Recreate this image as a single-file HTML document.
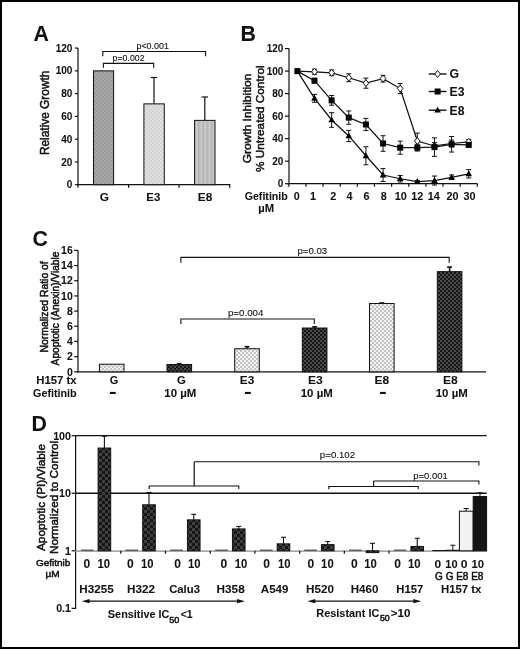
<!DOCTYPE html>
<html><head><meta charset="utf-8"><style>
html,body{margin:0;padding:0;background:#fff;}
body{width:520px;height:649px;overflow:hidden;}
svg{display:block;filter:grayscale(1);font-family:"Liberation Sans", sans-serif;}
text{stroke:#111;stroke-width:0.05px;}
text[font-weight="normal"]{stroke-width:0.5px;}
text.pv{stroke-width:0.1px;}
</style></head><body>
<svg width="520" height="649" viewBox="0 0 520 649" fill="#111">
<defs>
<pattern id="pG" width="4" height="4" patternUnits="userSpaceOnUse"><rect width="4" height="4" fill="#9c9c9c"/><rect width="2" height="2" fill="#a6a6a6"/><rect x="2" y="2" width="2" height="2" fill="#a6a6a6"/></pattern>
<pattern id="pE3" width="4" height="4" patternUnits="userSpaceOnUse"><rect width="4" height="4" fill="#d3d3d3"/><rect width="2" height="2" fill="#e0e0e0"/><rect x="2" y="2" width="2" height="2" fill="#e0e0e0"/></pattern>
<pattern id="pE8" width="4.3" height="4" patternUnits="userSpaceOnUse"><rect width="4.3" height="4" fill="#c8c8c8"/><rect width="2" height="4" fill="#b6b6b6"/></pattern>
<pattern id="pL" width="4" height="4" patternUnits="userSpaceOnUse"><rect width="4" height="4" fill="#c2c2c2"/><rect width="2" height="2" fill="#f2f2f2"/><rect x="2" y="2" width="2" height="2" fill="#f2f2f2"/></pattern>
<pattern id="pD" width="4" height="4" patternUnits="userSpaceOnUse"><rect width="4" height="4" fill="#171717"/><rect width="2" height="2" fill="#4a4a4a"/><rect x="2" y="2" width="2" height="2" fill="#4a4a4a"/></pattern>
<pattern id="pD2" width="6" height="6" patternUnits="userSpaceOnUse"><rect width="6" height="6" fill="#161616"/><rect width="3" height="3" fill="#404040"/><rect x="3" y="3" width="3" height="3" fill="#404040"/></pattern>
</defs>
<rect x="1" y="1" width="518" height="647" fill="#fff" stroke="#000" stroke-width="2"/>
<text x="33.60" y="40.90" font-size="21.3" font-weight="bold" text-anchor="start" >A</text>
<line x1="75.00" y1="184.70" x2="78.00" y2="184.70" stroke="#111" stroke-width="1.2"/>
<text x="72.40" y="188.30" font-size="10" font-weight="bold" text-anchor="end" >0</text>
<line x1="75.00" y1="161.93" x2="78.00" y2="161.93" stroke="#111" stroke-width="1.2"/>
<text x="72.40" y="165.53" font-size="10" font-weight="bold" text-anchor="end" >20</text>
<line x1="75.00" y1="139.16" x2="78.00" y2="139.16" stroke="#111" stroke-width="1.2"/>
<text x="72.40" y="142.76" font-size="10" font-weight="bold" text-anchor="end" >40</text>
<line x1="75.00" y1="116.39" x2="78.00" y2="116.39" stroke="#111" stroke-width="1.2"/>
<text x="72.40" y="119.99" font-size="10" font-weight="bold" text-anchor="end" >60</text>
<line x1="75.00" y1="93.62" x2="78.00" y2="93.62" stroke="#111" stroke-width="1.2"/>
<text x="72.40" y="97.22" font-size="10" font-weight="bold" text-anchor="end" >80</text>
<line x1="75.00" y1="70.85" x2="78.00" y2="70.85" stroke="#111" stroke-width="1.2"/>
<text x="72.40" y="74.45" font-size="10" font-weight="bold" text-anchor="end" >100</text>
<line x1="75.00" y1="48.08" x2="78.00" y2="48.08" stroke="#111" stroke-width="1.2"/>
<text x="72.40" y="51.68" font-size="10" font-weight="bold" text-anchor="end" >120</text>
<line x1="78.00" y1="48.00" x2="78.00" y2="185.30" stroke="#111" stroke-width="1.2"/>
<line x1="77.40" y1="184.70" x2="230.30" y2="184.70" stroke="#111" stroke-width="1.2"/>
<line x1="78.00" y1="184.70" x2="78.00" y2="187.70" stroke="#111" stroke-width="1.2"/>
<line x1="128.60" y1="184.70" x2="128.60" y2="187.70" stroke="#111" stroke-width="1.2"/>
<line x1="179.00" y1="184.70" x2="179.00" y2="187.70" stroke="#111" stroke-width="1.2"/>
<line x1="229.70" y1="184.70" x2="229.70" y2="187.70" stroke="#111" stroke-width="1.2"/>
<line x1="154.00" y1="77.50" x2="154.00" y2="103.75" stroke="#111" stroke-width="1.2"/>
<line x1="150.75" y1="77.50" x2="157.25" y2="77.50" stroke="#111" stroke-width="1.2"/>
<line x1="204.80" y1="97.00" x2="204.80" y2="120.50" stroke="#111" stroke-width="1.2"/>
<line x1="201.55" y1="97.00" x2="208.05" y2="97.00" stroke="#111" stroke-width="1.2"/>
<rect x="93.50" y="70.85" width="20.10" height="113.85" fill="url(#pG)" stroke="#111" stroke-width="1"/>
<rect x="143.90" y="103.87" width="20.40" height="80.83" fill="url(#pE3)" stroke="#111" stroke-width="1"/>
<rect x="194.60" y="120.37" width="20.40" height="64.33" fill="url(#pE8)" stroke="#111" stroke-width="1"/>
<path d="M102.80 56.20 V51.50 H205.60 V56.20" fill="none" stroke="#111" stroke-width="1.1"/>
<path d="M103.40 67.80 V63.40 H153.70 V67.80" fill="none" stroke="#111" stroke-width="1.1"/>
<text class="pv" x="152.65" y="49.20" font-size="8.3" font-weight="normal" text-anchor="middle" textLength="32.36" lengthAdjust="spacingAndGlyphs">p&lt;0.001</text>
<text class="pv" x="128.55" y="61.20" font-size="8.3" font-weight="normal" text-anchor="middle" textLength="31.96" lengthAdjust="spacingAndGlyphs">p=0.002</text>
<text x="104.30" y="200.90" font-size="10.8" font-weight="bold" text-anchor="middle" textLength="9.26" lengthAdjust="spacingAndGlyphs">G</text>
<text x="153.35" y="200.90" font-size="10.8" font-weight="bold" text-anchor="middle" textLength="13.96" lengthAdjust="spacingAndGlyphs">E3</text>
<text x="205.00" y="200.90" font-size="10.8" font-weight="bold" text-anchor="middle" textLength="14.46" lengthAdjust="spacingAndGlyphs">E8</text>
<text transform="translate(48.60,112.85) rotate(-90)" font-size="12" font-weight="normal" text-anchor="middle" textLength="84.5" lengthAdjust="spacingAndGlyphs">Relative Growth</text>
<text x="240.60" y="40.90" font-size="21.3" font-weight="bold" text-anchor="start" >B</text>
<line x1="285.00" y1="183.70" x2="289.00" y2="183.70" stroke="#111" stroke-width="1.2"/>
<text x="283.40" y="187.30" font-size="10" font-weight="bold" text-anchor="end" >0</text>
<line x1="285.00" y1="161.18" x2="289.00" y2="161.18" stroke="#111" stroke-width="1.2"/>
<text x="283.40" y="164.78" font-size="10" font-weight="bold" text-anchor="end" >20</text>
<line x1="285.00" y1="138.66" x2="289.00" y2="138.66" stroke="#111" stroke-width="1.2"/>
<text x="283.40" y="142.26" font-size="10" font-weight="bold" text-anchor="end" >40</text>
<line x1="285.00" y1="116.14" x2="289.00" y2="116.14" stroke="#111" stroke-width="1.2"/>
<text x="283.40" y="119.74" font-size="10" font-weight="bold" text-anchor="end" >60</text>
<line x1="285.00" y1="93.62" x2="289.00" y2="93.62" stroke="#111" stroke-width="1.2"/>
<text x="283.40" y="97.22" font-size="10" font-weight="bold" text-anchor="end" >80</text>
<line x1="285.00" y1="71.10" x2="289.00" y2="71.10" stroke="#111" stroke-width="1.2"/>
<text x="283.40" y="74.70" font-size="10" font-weight="bold" text-anchor="end" >100</text>
<line x1="285.00" y1="48.58" x2="289.00" y2="48.58" stroke="#111" stroke-width="1.2"/>
<text x="283.40" y="52.18" font-size="10" font-weight="bold" text-anchor="end" >120</text>
<line x1="289.00" y1="48.40" x2="289.00" y2="184.30" stroke="#111" stroke-width="1.2"/>
<line x1="288.40" y1="183.70" x2="477.50" y2="183.70" stroke="#111" stroke-width="1.2"/>
<line x1="288.80" y1="183.70" x2="288.80" y2="186.70" stroke="#111" stroke-width="1.2"/>
<line x1="305.94" y1="183.70" x2="305.94" y2="186.70" stroke="#111" stroke-width="1.2"/>
<line x1="323.07" y1="183.70" x2="323.07" y2="186.70" stroke="#111" stroke-width="1.2"/>
<line x1="340.21" y1="183.70" x2="340.21" y2="186.70" stroke="#111" stroke-width="1.2"/>
<line x1="357.35" y1="183.70" x2="357.35" y2="186.70" stroke="#111" stroke-width="1.2"/>
<line x1="374.48" y1="183.70" x2="374.48" y2="186.70" stroke="#111" stroke-width="1.2"/>
<line x1="391.62" y1="183.70" x2="391.62" y2="186.70" stroke="#111" stroke-width="1.2"/>
<line x1="408.75" y1="183.70" x2="408.75" y2="186.70" stroke="#111" stroke-width="1.2"/>
<line x1="425.89" y1="183.70" x2="425.89" y2="186.70" stroke="#111" stroke-width="1.2"/>
<line x1="443.03" y1="183.70" x2="443.03" y2="186.70" stroke="#111" stroke-width="1.2"/>
<line x1="460.16" y1="183.70" x2="460.16" y2="186.70" stroke="#111" stroke-width="1.2"/>
<line x1="477.30" y1="183.70" x2="477.30" y2="186.70" stroke="#111" stroke-width="1.2"/>
<text x="296.70" y="200.20" font-size="10.8" font-weight="bold" text-anchor="middle" >0</text>
<text x="312.90" y="200.20" font-size="10.8" font-weight="bold" text-anchor="middle" >1</text>
<text x="333.20" y="200.20" font-size="10.8" font-weight="bold" text-anchor="middle" >2</text>
<text x="349.60" y="200.20" font-size="10.8" font-weight="bold" text-anchor="middle" >4</text>
<text x="366.60" y="200.20" font-size="10.8" font-weight="bold" text-anchor="middle" >6</text>
<text x="383.80" y="200.20" font-size="10.8" font-weight="bold" text-anchor="middle" >8</text>
<text x="400.70" y="200.20" font-size="10.8" font-weight="bold" text-anchor="middle" >10</text>
<text x="417.30" y="200.20" font-size="10.8" font-weight="bold" text-anchor="middle" >12</text>
<text x="433.80" y="200.20" font-size="10.8" font-weight="bold" text-anchor="middle" >14</text>
<text x="452.60" y="200.20" font-size="10.8" font-weight="bold" text-anchor="middle" >20</text>
<text x="469.40" y="200.20" font-size="10.8" font-weight="bold" text-anchor="middle" >30</text>
<text x="266.25" y="200.10" font-size="11" font-weight="bold" text-anchor="middle" textLength="43.18" lengthAdjust="spacingAndGlyphs">Gefitinib</text>
<text x="266.30" y="212.40" font-size="10.5" font-weight="bold" text-anchor="middle" textLength="15.84" lengthAdjust="spacingAndGlyphs">µM</text>
<text transform="translate(251.10,118.40) rotate(-90)" font-size="11.8" font-weight="normal" text-anchor="middle" textLength="89.6" lengthAdjust="spacingAndGlyphs">Growth Inhibition</text>
<text transform="translate(264.00,118.60) rotate(-90)" font-size="11.8" font-weight="normal" text-anchor="middle" textLength="106.6" lengthAdjust="spacingAndGlyphs">% Untreated Control</text>
<polyline points="297.37,71.10 314.50,98.35 331.64,119.97 348.78,135.96 365.91,155.78 383.05,175.03 400.19,178.75 417.32,181.67 434.46,180.55 451.60,177.28 468.73,173.79" fill="none" stroke="#111" stroke-width="1.25"/>
<line x1="314.50" y1="94.41" x2="314.50" y2="102.29" stroke="#111" stroke-width="1"/>
<line x1="312.00" y1="94.41" x2="317.00" y2="94.41" stroke="#111" stroke-width="1"/>
<line x1="312.00" y1="102.29" x2="317.00" y2="102.29" stroke="#111" stroke-width="1"/>
<line x1="331.64" y1="112.65" x2="331.64" y2="127.29" stroke="#111" stroke-width="1"/>
<line x1="329.14" y1="112.65" x2="334.14" y2="112.65" stroke="#111" stroke-width="1"/>
<line x1="329.14" y1="127.29" x2="334.14" y2="127.29" stroke="#111" stroke-width="1"/>
<line x1="348.78" y1="130.33" x2="348.78" y2="141.59" stroke="#111" stroke-width="1"/>
<line x1="346.28" y1="130.33" x2="351.28" y2="130.33" stroke="#111" stroke-width="1"/>
<line x1="346.28" y1="141.59" x2="351.28" y2="141.59" stroke="#111" stroke-width="1"/>
<line x1="365.91" y1="146.77" x2="365.91" y2="164.78" stroke="#111" stroke-width="1"/>
<line x1="363.41" y1="146.77" x2="368.41" y2="146.77" stroke="#111" stroke-width="1"/>
<line x1="363.41" y1="164.78" x2="368.41" y2="164.78" stroke="#111" stroke-width="1"/>
<line x1="383.05" y1="168.61" x2="383.05" y2="181.45" stroke="#111" stroke-width="1"/>
<line x1="380.55" y1="168.61" x2="385.55" y2="168.61" stroke="#111" stroke-width="1"/>
<line x1="380.55" y1="181.45" x2="385.55" y2="181.45" stroke="#111" stroke-width="1"/>
<line x1="400.19" y1="175.48" x2="400.19" y2="182.01" stroke="#111" stroke-width="1"/>
<line x1="397.69" y1="175.48" x2="402.69" y2="175.48" stroke="#111" stroke-width="1"/>
<line x1="397.69" y1="182.01" x2="402.69" y2="182.01" stroke="#111" stroke-width="1"/>
<line x1="417.32" y1="180.55" x2="417.32" y2="182.80" stroke="#111" stroke-width="1"/>
<line x1="414.82" y1="180.55" x2="419.82" y2="180.55" stroke="#111" stroke-width="1"/>
<line x1="414.82" y1="182.80" x2="419.82" y2="182.80" stroke="#111" stroke-width="1"/>
<line x1="434.46" y1="176.04" x2="434.46" y2="185.05" stroke="#111" stroke-width="1"/>
<line x1="431.96" y1="176.04" x2="436.96" y2="176.04" stroke="#111" stroke-width="1"/>
<line x1="431.96" y1="185.05" x2="436.96" y2="185.05" stroke="#111" stroke-width="1"/>
<line x1="451.60" y1="175.03" x2="451.60" y2="179.53" stroke="#111" stroke-width="1"/>
<line x1="449.10" y1="175.03" x2="454.10" y2="175.03" stroke="#111" stroke-width="1"/>
<line x1="449.10" y1="179.53" x2="454.10" y2="179.53" stroke="#111" stroke-width="1"/>
<line x1="468.73" y1="169.62" x2="468.73" y2="177.96" stroke="#111" stroke-width="1"/>
<line x1="466.23" y1="169.62" x2="471.23" y2="169.62" stroke="#111" stroke-width="1"/>
<line x1="466.23" y1="177.96" x2="471.23" y2="177.96" stroke="#111" stroke-width="1"/>
<path d="M314.50 94.79 L317.80 100.73 L311.20 100.73 Z" fill="#000"/>
<path d="M331.64 116.40 L334.94 122.34 L328.34 122.34 Z" fill="#000"/>
<path d="M348.78 132.39 L352.08 138.33 L345.48 138.33 Z" fill="#000"/>
<path d="M365.91 152.21 L369.21 158.15 L362.61 158.15 Z" fill="#000"/>
<path d="M383.05 171.47 L386.35 177.41 L379.75 177.41 Z" fill="#000"/>
<path d="M400.19 175.18 L403.49 181.12 L396.89 181.12 Z" fill="#000"/>
<path d="M417.32 178.11 L420.62 184.05 L414.02 184.05 Z" fill="#000"/>
<path d="M434.46 176.98 L437.76 182.92 L431.16 182.92 Z" fill="#000"/>
<path d="M451.60 173.72 L454.90 179.66 L448.30 179.66 Z" fill="#000"/>
<path d="M468.73 170.23 L472.03 176.17 L465.43 176.17 Z" fill="#000"/>
<polyline points="297.37,71.10 314.50,71.78 331.64,72.79 348.78,77.74 365.91,83.15 383.05,78.64 400.19,88.55 417.32,141.02 434.46,145.98 451.60,143.50 468.73,141.81" fill="none" stroke="#111" stroke-width="1.25"/>
<line x1="314.50" y1="69.19" x2="314.50" y2="74.37" stroke="#111" stroke-width="1"/>
<line x1="312.00" y1="69.19" x2="317.00" y2="69.19" stroke="#111" stroke-width="1"/>
<line x1="312.00" y1="74.37" x2="317.00" y2="74.37" stroke="#111" stroke-width="1"/>
<line x1="331.64" y1="69.97" x2="331.64" y2="75.60" stroke="#111" stroke-width="1"/>
<line x1="329.14" y1="69.97" x2="334.14" y2="69.97" stroke="#111" stroke-width="1"/>
<line x1="329.14" y1="75.60" x2="334.14" y2="75.60" stroke="#111" stroke-width="1"/>
<line x1="348.78" y1="73.80" x2="348.78" y2="81.68" stroke="#111" stroke-width="1"/>
<line x1="346.28" y1="73.80" x2="351.28" y2="73.80" stroke="#111" stroke-width="1"/>
<line x1="346.28" y1="81.68" x2="351.28" y2="81.68" stroke="#111" stroke-width="1"/>
<line x1="365.91" y1="78.08" x2="365.91" y2="88.22" stroke="#111" stroke-width="1"/>
<line x1="363.41" y1="78.08" x2="368.41" y2="78.08" stroke="#111" stroke-width="1"/>
<line x1="363.41" y1="88.22" x2="368.41" y2="88.22" stroke="#111" stroke-width="1"/>
<line x1="383.05" y1="75.27" x2="383.05" y2="82.02" stroke="#111" stroke-width="1"/>
<line x1="380.55" y1="75.27" x2="385.55" y2="75.27" stroke="#111" stroke-width="1"/>
<line x1="380.55" y1="82.02" x2="385.55" y2="82.02" stroke="#111" stroke-width="1"/>
<line x1="400.19" y1="83.49" x2="400.19" y2="93.62" stroke="#111" stroke-width="1"/>
<line x1="397.69" y1="83.49" x2="402.69" y2="83.49" stroke="#111" stroke-width="1"/>
<line x1="397.69" y1="93.62" x2="402.69" y2="93.62" stroke="#111" stroke-width="1"/>
<line x1="417.32" y1="133.14" x2="417.32" y2="148.91" stroke="#111" stroke-width="1"/>
<line x1="414.82" y1="133.14" x2="419.82" y2="133.14" stroke="#111" stroke-width="1"/>
<line x1="414.82" y1="148.91" x2="419.82" y2="148.91" stroke="#111" stroke-width="1"/>
<line x1="434.46" y1="142.60" x2="434.46" y2="149.36" stroke="#111" stroke-width="1"/>
<line x1="431.96" y1="142.60" x2="436.96" y2="142.60" stroke="#111" stroke-width="1"/>
<line x1="431.96" y1="149.36" x2="436.96" y2="149.36" stroke="#111" stroke-width="1"/>
<line x1="451.60" y1="140.12" x2="451.60" y2="146.88" stroke="#111" stroke-width="1"/>
<line x1="449.10" y1="140.12" x2="454.10" y2="140.12" stroke="#111" stroke-width="1"/>
<line x1="449.10" y1="146.88" x2="454.10" y2="146.88" stroke="#111" stroke-width="1"/>
<line x1="468.73" y1="139.56" x2="468.73" y2="144.06" stroke="#111" stroke-width="1"/>
<line x1="466.23" y1="139.56" x2="471.23" y2="139.56" stroke="#111" stroke-width="1"/>
<line x1="466.23" y1="144.06" x2="471.23" y2="144.06" stroke="#111" stroke-width="1"/>
<path d="M314.50 68.28 L317.30 71.78 L314.50 75.28 L311.70 71.78 Z" fill="#fff" stroke="#111" stroke-width="1"/>
<path d="M331.64 69.29 L334.44 72.79 L331.64 76.29 L328.84 72.79 Z" fill="#fff" stroke="#111" stroke-width="1"/>
<path d="M348.78 74.24 L351.58 77.74 L348.78 81.24 L345.98 77.74 Z" fill="#fff" stroke="#111" stroke-width="1"/>
<path d="M365.91 79.65 L368.71 83.15 L365.91 86.65 L363.11 83.15 Z" fill="#fff" stroke="#111" stroke-width="1"/>
<path d="M383.05 75.14 L385.85 78.64 L383.05 82.14 L380.25 78.64 Z" fill="#fff" stroke="#111" stroke-width="1"/>
<path d="M400.19 85.05 L402.99 88.55 L400.19 92.05 L397.39 88.55 Z" fill="#fff" stroke="#111" stroke-width="1"/>
<path d="M417.32 137.52 L420.12 141.02 L417.32 144.52 L414.52 141.02 Z" fill="#fff" stroke="#111" stroke-width="1"/>
<path d="M434.46 142.48 L437.26 145.98 L434.46 149.48 L431.66 145.98 Z" fill="#fff" stroke="#111" stroke-width="1"/>
<path d="M451.60 140.00 L454.40 143.50 L451.60 147.00 L448.80 143.50 Z" fill="#fff" stroke="#111" stroke-width="1"/>
<path d="M468.73 138.31 L471.53 141.81 L468.73 145.31 L465.93 141.81 Z" fill="#fff" stroke="#111" stroke-width="1"/>
<polyline points="297.37,71.10 314.50,80.67 331.64,100.38 348.78,117.60 365.91,124.47 383.05,143.50 400.19,147.67 417.32,147.67 434.46,147.10 451.60,144.29 468.73,144.85" fill="none" stroke="#111" stroke-width="1.25"/>
<line x1="314.50" y1="78.42" x2="314.50" y2="82.92" stroke="#111" stroke-width="1"/>
<line x1="312.00" y1="78.42" x2="317.00" y2="78.42" stroke="#111" stroke-width="1"/>
<line x1="312.00" y1="82.92" x2="317.00" y2="82.92" stroke="#111" stroke-width="1"/>
<line x1="331.64" y1="95.53" x2="331.64" y2="105.22" stroke="#111" stroke-width="1"/>
<line x1="329.14" y1="95.53" x2="334.14" y2="95.53" stroke="#111" stroke-width="1"/>
<line x1="329.14" y1="105.22" x2="334.14" y2="105.22" stroke="#111" stroke-width="1"/>
<line x1="348.78" y1="110.96" x2="348.78" y2="124.25" stroke="#111" stroke-width="1"/>
<line x1="346.28" y1="110.96" x2="351.28" y2="110.96" stroke="#111" stroke-width="1"/>
<line x1="346.28" y1="124.25" x2="351.28" y2="124.25" stroke="#111" stroke-width="1"/>
<line x1="365.91" y1="118.39" x2="365.91" y2="130.55" stroke="#111" stroke-width="1"/>
<line x1="363.41" y1="118.39" x2="368.41" y2="118.39" stroke="#111" stroke-width="1"/>
<line x1="363.41" y1="130.55" x2="368.41" y2="130.55" stroke="#111" stroke-width="1"/>
<line x1="383.05" y1="135.73" x2="383.05" y2="151.27" stroke="#111" stroke-width="1"/>
<line x1="380.55" y1="135.73" x2="385.55" y2="135.73" stroke="#111" stroke-width="1"/>
<line x1="380.55" y1="151.27" x2="385.55" y2="151.27" stroke="#111" stroke-width="1"/>
<line x1="400.19" y1="141.14" x2="400.19" y2="154.20" stroke="#111" stroke-width="1"/>
<line x1="397.69" y1="141.14" x2="402.69" y2="141.14" stroke="#111" stroke-width="1"/>
<line x1="397.69" y1="154.20" x2="402.69" y2="154.20" stroke="#111" stroke-width="1"/>
<line x1="417.32" y1="144.29" x2="417.32" y2="151.05" stroke="#111" stroke-width="1"/>
<line x1="414.82" y1="144.29" x2="419.82" y2="144.29" stroke="#111" stroke-width="1"/>
<line x1="414.82" y1="151.05" x2="419.82" y2="151.05" stroke="#111" stroke-width="1"/>
<line x1="434.46" y1="137.87" x2="434.46" y2="156.34" stroke="#111" stroke-width="1"/>
<line x1="431.96" y1="137.87" x2="436.96" y2="137.87" stroke="#111" stroke-width="1"/>
<line x1="431.96" y1="156.34" x2="436.96" y2="156.34" stroke="#111" stroke-width="1"/>
<line x1="451.60" y1="136.52" x2="451.60" y2="152.06" stroke="#111" stroke-width="1"/>
<line x1="449.10" y1="136.52" x2="454.10" y2="136.52" stroke="#111" stroke-width="1"/>
<line x1="449.10" y1="152.06" x2="454.10" y2="152.06" stroke="#111" stroke-width="1"/>
<line x1="468.73" y1="142.60" x2="468.73" y2="147.10" stroke="#111" stroke-width="1"/>
<line x1="466.23" y1="142.60" x2="471.23" y2="142.60" stroke="#111" stroke-width="1"/>
<line x1="466.23" y1="147.10" x2="471.23" y2="147.10" stroke="#111" stroke-width="1"/>
<rect x="294.37" y="68.10" width="6" height="6" fill="#000"/>
<rect x="311.50" y="77.67" width="6" height="6" fill="#000"/>
<rect x="328.64" y="97.38" width="6" height="6" fill="#000"/>
<rect x="345.78" y="114.60" width="6" height="6" fill="#000"/>
<rect x="362.91" y="121.47" width="6" height="6" fill="#000"/>
<rect x="380.05" y="140.50" width="6" height="6" fill="#000"/>
<rect x="397.19" y="144.67" width="6" height="6" fill="#000"/>
<rect x="414.32" y="144.67" width="6" height="6" fill="#000"/>
<rect x="431.46" y="144.10" width="6" height="6" fill="#000"/>
<rect x="448.60" y="141.29" width="6" height="6" fill="#000"/>
<rect x="465.73" y="141.85" width="6" height="6" fill="#000"/>
<line x1="428.80" y1="74.00" x2="446.50" y2="74.00" stroke="#111" stroke-width="1.4"/>
<path d="M437.60 70.50 L440.40 74.00 L437.60 77.50 L434.80 74.00 Z" fill="#fff" stroke="#111" stroke-width="1"/>
<text x="454.40" y="78.30" font-size="12" font-weight="bold" text-anchor="middle" textLength="9.56" lengthAdjust="spacingAndGlyphs">G</text>
<line x1="428.80" y1="91.50" x2="446.50" y2="91.50" stroke="#111" stroke-width="1.4"/>
<rect x="434.60" y="88.50" width="6" height="6" fill="#000"/>
<text x="457.05" y="95.80" font-size="12" font-weight="bold" text-anchor="middle" textLength="14.86" lengthAdjust="spacingAndGlyphs">E3</text>
<line x1="428.80" y1="110.20" x2="446.50" y2="110.20" stroke="#111" stroke-width="1.4"/>
<path d="M437.60 106.64 L440.90 112.58 L434.30 112.58 Z" fill="#000"/>
<text x="457.05" y="114.50" font-size="12" font-weight="bold" text-anchor="middle" textLength="14.86" lengthAdjust="spacingAndGlyphs">E8</text>
<text x="32.40" y="246.40" font-size="21.3" font-weight="bold" text-anchor="start" >C</text>
<line x1="74.20" y1="371.80" x2="78.00" y2="371.80" stroke="#111" stroke-width="1.2"/>
<text x="72.80" y="375.50" font-size="10.5" font-weight="bold" text-anchor="end" >0</text>
<line x1="74.20" y1="356.62" x2="78.00" y2="356.62" stroke="#111" stroke-width="1.2"/>
<text x="72.80" y="360.32" font-size="10.5" font-weight="bold" text-anchor="end" >2</text>
<line x1="74.20" y1="341.45" x2="78.00" y2="341.45" stroke="#111" stroke-width="1.2"/>
<text x="72.80" y="345.15" font-size="10.5" font-weight="bold" text-anchor="end" >4</text>
<line x1="74.20" y1="326.27" x2="78.00" y2="326.27" stroke="#111" stroke-width="1.2"/>
<text x="72.80" y="329.97" font-size="10.5" font-weight="bold" text-anchor="end" >6</text>
<line x1="74.20" y1="311.10" x2="78.00" y2="311.10" stroke="#111" stroke-width="1.2"/>
<text x="72.80" y="314.80" font-size="10.5" font-weight="bold" text-anchor="end" >8</text>
<line x1="74.20" y1="295.93" x2="78.00" y2="295.93" stroke="#111" stroke-width="1.2"/>
<text x="72.80" y="299.62" font-size="10.5" font-weight="bold" text-anchor="end" >10</text>
<line x1="74.20" y1="280.75" x2="78.00" y2="280.75" stroke="#111" stroke-width="1.2"/>
<text x="72.80" y="284.45" font-size="10.5" font-weight="bold" text-anchor="end" >12</text>
<line x1="74.20" y1="265.57" x2="78.00" y2="265.57" stroke="#111" stroke-width="1.2"/>
<text x="72.80" y="269.27" font-size="10.5" font-weight="bold" text-anchor="end" >14</text>
<line x1="74.20" y1="250.40" x2="78.00" y2="250.40" stroke="#111" stroke-width="1.2"/>
<text x="72.80" y="254.10" font-size="10.5" font-weight="bold" text-anchor="end" >16</text>
<line x1="78.00" y1="250.30" x2="78.00" y2="372.40" stroke="#111" stroke-width="1.2"/>
<line x1="77.40" y1="371.80" x2="486.00" y2="371.80" stroke="#111" stroke-width="1.2"/>
<rect x="99.40" y="364.21" width="24.60" height="7.59" fill="url(#pL)" stroke="#111" stroke-width="1"/>
<line x1="179.30" y1="363.91" x2="179.30" y2="364.52" stroke="#111" stroke-width="1.6"/>
<line x1="176.80" y1="363.91" x2="181.80" y2="363.91" stroke="#111" stroke-width="1.6"/>
<rect x="167.00" y="364.52" width="24.60" height="7.28" fill="url(#pD)" stroke="#111" stroke-width="1"/>
<line x1="247.00" y1="346.69" x2="247.00" y2="348.73" stroke="#111" stroke-width="1.6"/>
<line x1="244.50" y1="346.69" x2="249.50" y2="346.69" stroke="#111" stroke-width="1.6"/>
<rect x="234.70" y="348.73" width="24.60" height="23.07" fill="url(#pL)" stroke="#111" stroke-width="1"/>
<line x1="314.65" y1="326.88" x2="314.65" y2="328.02" stroke="#111" stroke-width="1.6"/>
<line x1="312.15" y1="326.88" x2="317.15" y2="326.88" stroke="#111" stroke-width="1.6"/>
<rect x="302.35" y="328.02" width="24.60" height="43.78" fill="url(#pD)" stroke="#111" stroke-width="1"/>
<line x1="381.80" y1="302.98" x2="381.80" y2="303.51" stroke="#111" stroke-width="1.6"/>
<line x1="379.30" y1="302.98" x2="384.30" y2="302.98" stroke="#111" stroke-width="1.6"/>
<rect x="369.50" y="303.51" width="24.60" height="68.29" fill="url(#pL)" stroke="#111" stroke-width="1"/>
<line x1="449.60" y1="267.09" x2="449.60" y2="271.64" stroke="#111" stroke-width="1.6"/>
<line x1="447.10" y1="267.09" x2="452.10" y2="267.09" stroke="#111" stroke-width="1.6"/>
<rect x="437.30" y="271.64" width="24.60" height="100.16" fill="url(#pD)" stroke="#111" stroke-width="1"/>
<path d="M180.90 262.80 V257.40 H449.20 V262.80" fill="none" stroke="#111" stroke-width="1.1"/>
<path d="M180.90 324.00 V319.00 H314.30 V324.00" fill="none" stroke="#111" stroke-width="1.1"/>
<text class="pv" x="312.30" y="254.10" font-size="9.2" font-weight="normal" text-anchor="middle" textLength="29.74" lengthAdjust="spacingAndGlyphs">p=0.03</text>
<text class="pv" x="245.65" y="316.00" font-size="9.2" font-weight="normal" text-anchor="middle" textLength="35.44" lengthAdjust="spacingAndGlyphs">p=0.004</text>
<text x="56.45" y="384.40" font-size="10.8" font-weight="bold" text-anchor="middle" textLength="40.36" lengthAdjust="spacingAndGlyphs">H157 tx</text>
<text x="54.85" y="396.90" font-size="10.8" font-weight="bold" text-anchor="middle" textLength="43.56" lengthAdjust="spacingAndGlyphs">Gefitinib</text>
<text x="114.00" y="384.20" font-size="11.4" font-weight="bold" text-anchor="middle" textLength="8.51" lengthAdjust="spacingAndGlyphs">G</text>
<text x="181.35" y="384.20" font-size="11.4" font-weight="bold" text-anchor="middle" textLength="8.81" lengthAdjust="spacingAndGlyphs">G</text>
<text x="247.00" y="384.20" font-size="11.4" font-weight="bold" text-anchor="middle" textLength="14.51" lengthAdjust="spacingAndGlyphs">E3</text>
<text x="315.45" y="384.20" font-size="11.4" font-weight="bold" text-anchor="middle" textLength="14.81" lengthAdjust="spacingAndGlyphs">E3</text>
<text x="381.90" y="384.20" font-size="11.4" font-weight="bold" text-anchor="middle" textLength="14.71" lengthAdjust="spacingAndGlyphs">E8</text>
<text x="450.45" y="384.20" font-size="11.4" font-weight="bold" text-anchor="middle" textLength="14.81" lengthAdjust="spacingAndGlyphs">E8</text>
<rect x="109.90" y="391.9" width="5.8" height="2.1" fill="#111"/>
<rect x="245.00" y="391.9" width="5.8" height="2.1" fill="#111"/>
<rect x="380.00" y="391.9" width="5.8" height="2.1" fill="#111"/>
<text x="180.35" y="397.30" font-size="10.4" font-weight="bold" text-anchor="middle" textLength="32.13" lengthAdjust="spacingAndGlyphs">10 µM</text>
<text x="316.75" y="397.30" font-size="10.4" font-weight="bold" text-anchor="middle" textLength="31.93" lengthAdjust="spacingAndGlyphs">10 µM</text>
<text x="451.75" y="397.30" font-size="10.4" font-weight="bold" text-anchor="middle" textLength="31.93" lengthAdjust="spacingAndGlyphs">10 µM</text>
<text transform="translate(47.90,306.90) rotate(-90)" font-size="10.3" font-weight="normal" text-anchor="middle" textLength="91.2" lengthAdjust="spacingAndGlyphs">Normalized Ratio of</text>
<text transform="translate(59.20,308.50) rotate(-90)" font-size="10.3" font-weight="normal" text-anchor="middle" textLength="113.8" lengthAdjust="spacingAndGlyphs">Apoptotic (Anexin)/Viable</text>
<text x="31.60" y="430.90" font-size="21.3" font-weight="bold" text-anchor="start" >D</text>
<line x1="71.60" y1="435.70" x2="75.60" y2="435.70" stroke="#111" stroke-width="1.2"/>
<text x="71.00" y="439.60" font-size="10.7" font-weight="bold" text-anchor="end" >100</text>
<line x1="71.60" y1="493.25" x2="75.60" y2="493.25" stroke="#111" stroke-width="1.2"/>
<text x="71.00" y="497.15" font-size="10.7" font-weight="bold" text-anchor="end" >10</text>
<line x1="71.60" y1="550.80" x2="75.60" y2="550.80" stroke="#111" stroke-width="1.2"/>
<text x="71.00" y="554.70" font-size="10.7" font-weight="bold" text-anchor="end" >1</text>
<line x1="71.60" y1="608.35" x2="75.60" y2="608.35" stroke="#111" stroke-width="1.2"/>
<text x="71.00" y="612.25" font-size="10.7" font-weight="bold" text-anchor="end" >0.1</text>
<line x1="75.60" y1="435.60" x2="75.60" y2="608.90" stroke="#111" stroke-width="1.2"/>
<line x1="75.60" y1="435.70" x2="486.70" y2="435.70" stroke="#111" stroke-width="1.3"/>
<line x1="75.60" y1="493.25" x2="486.70" y2="493.25" stroke="#111" stroke-width="1.3"/>
<line x1="75.00" y1="551.10" x2="486.70" y2="551.10" stroke="#8a8a8a" stroke-width="1.1"/>
<line x1="104.40" y1="436.20" x2="104.40" y2="448.05" stroke="#111" stroke-width="1.1"/>
<line x1="101.90" y1="436.20" x2="106.90" y2="436.20" stroke="#111" stroke-width="1.1"/>
<rect x="98.10" y="448.05" width="12.60" height="102.75" fill="url(#pD2)" stroke="#111" stroke-width="1"/>
<rect x="80.90" y="549.60" width="12.6" height="1.2" fill="#444"/>
<line x1="149.00" y1="492.51" x2="149.00" y2="504.80" stroke="#111" stroke-width="1.1"/>
<line x1="146.50" y1="492.51" x2="151.50" y2="492.51" stroke="#111" stroke-width="1.1"/>
<rect x="142.70" y="504.80" width="12.60" height="46.00" fill="url(#pD2)" stroke="#111" stroke-width="1"/>
<rect x="125.50" y="549.60" width="12.6" height="1.2" fill="#444"/>
<line x1="193.75" y1="514.34" x2="193.75" y2="519.85" stroke="#111" stroke-width="1.1"/>
<line x1="191.25" y1="514.34" x2="196.25" y2="514.34" stroke="#111" stroke-width="1.1"/>
<rect x="187.45" y="519.85" width="12.60" height="30.95" fill="url(#pD2)" stroke="#111" stroke-width="1"/>
<rect x="170.25" y="549.60" width="12.6" height="1.2" fill="#444"/>
<line x1="238.75" y1="526.44" x2="238.75" y2="528.92" stroke="#111" stroke-width="1.1"/>
<line x1="236.25" y1="526.44" x2="241.25" y2="526.44" stroke="#111" stroke-width="1.1"/>
<rect x="232.45" y="528.92" width="12.60" height="21.88" fill="url(#pD2)" stroke="#111" stroke-width="1"/>
<rect x="215.25" y="549.60" width="12.6" height="1.2" fill="#444"/>
<line x1="283.50" y1="537.25" x2="283.50" y2="543.86" stroke="#111" stroke-width="1.1"/>
<line x1="281.00" y1="537.25" x2="286.00" y2="537.25" stroke="#111" stroke-width="1.1"/>
<rect x="277.20" y="543.86" width="12.60" height="6.94" fill="url(#pD2)" stroke="#111" stroke-width="1"/>
<rect x="260.00" y="549.60" width="12.6" height="1.2" fill="#444"/>
<line x1="327.75" y1="541.51" x2="327.75" y2="544.63" stroke="#111" stroke-width="1.1"/>
<line x1="325.25" y1="541.51" x2="330.25" y2="541.51" stroke="#111" stroke-width="1.1"/>
<rect x="321.45" y="544.63" width="12.60" height="6.17" fill="url(#pD2)" stroke="#111" stroke-width="1"/>
<rect x="304.25" y="549.60" width="12.6" height="1.2" fill="#444"/>
<line x1="372.50" y1="543.30" x2="372.50" y2="550.80" stroke="#111" stroke-width="1.1"/>
<line x1="370.00" y1="543.30" x2="375.00" y2="543.30" stroke="#111" stroke-width="1.1"/>
<rect x="366.20" y="550.80" width="12.60" height="1.81" fill="url(#pD2)" stroke="#111" stroke-width="1"/>
<rect x="349.00" y="549.60" width="12.6" height="1.2" fill="#444"/>
<line x1="417.25" y1="538.28" x2="417.25" y2="546.45" stroke="#111" stroke-width="1.1"/>
<line x1="414.75" y1="538.28" x2="419.75" y2="538.28" stroke="#111" stroke-width="1.1"/>
<rect x="410.95" y="546.45" width="12.60" height="4.35" fill="url(#pD2)" stroke="#111" stroke-width="1"/>
<rect x="393.75" y="549.60" width="12.6" height="1.2" fill="#444"/>
<rect x="432.70" y="550.31" width="13.40" height="0.49" fill="#333" stroke="#111" stroke-width="0.6"/>
<rect x="446.40" y="550.06" width="12.80" height="0.74" fill="#333" stroke="#111" stroke-width="0.6"/>
<line x1="452.80" y1="545.22" x2="452.80" y2="550.06" stroke="#111" stroke-width="1"/>
<line x1="450.30" y1="545.22" x2="455.30" y2="545.22" stroke="#111" stroke-width="1"/>
<line x1="466.20" y1="508.50" x2="466.20" y2="511.20" stroke="#111" stroke-width="1"/>
<line x1="463.70" y1="508.50" x2="468.70" y2="508.50" stroke="#111" stroke-width="1"/>
<rect x="459.40" y="511.20" width="13.80" height="39.60" fill="#f2f2f2" stroke="#111" stroke-width="1"/>
<line x1="480.00" y1="492.80" x2="480.00" y2="496.50" stroke="#111" stroke-width="1"/>
<line x1="477.50" y1="492.80" x2="482.50" y2="492.80" stroke="#111" stroke-width="1"/>
<rect x="473.20" y="496.50" width="13.40" height="54.30" fill="#141414" stroke="#111" stroke-width="1"/>
<line x1="120.75" y1="550.80" x2="120.75" y2="553.80" stroke="#111" stroke-width="1.2"/>
<line x1="165.47" y1="550.80" x2="165.47" y2="553.80" stroke="#111" stroke-width="1.2"/>
<line x1="210.19" y1="550.80" x2="210.19" y2="553.80" stroke="#111" stroke-width="1.2"/>
<line x1="254.91" y1="550.80" x2="254.91" y2="553.80" stroke="#111" stroke-width="1.2"/>
<line x1="299.63" y1="550.80" x2="299.63" y2="553.80" stroke="#111" stroke-width="1.2"/>
<line x1="344.35" y1="550.80" x2="344.35" y2="553.80" stroke="#111" stroke-width="1.2"/>
<line x1="389.07" y1="550.80" x2="389.07" y2="553.80" stroke="#111" stroke-width="1.2"/>
<path d="M149.20 489.00 V486.00 H238.80 V489.00" fill="none" stroke="#111" stroke-width="1.1"/>
<line x1="194.20" y1="461.80" x2="194.20" y2="486.00" stroke="#111" stroke-width="1.2"/>
<path d="M194.20 461.80 V461.80 H478.90 V465.60" fill="none" stroke="#111" stroke-width="1.1"/>
<path d="M328.80 489.30 V486.50 H418.20 V489.30" fill="none" stroke="#111" stroke-width="1.1"/>
<line x1="373.60" y1="481.00" x2="373.60" y2="486.50" stroke="#111" stroke-width="1.2"/>
<path d="M373.60 481.00 V481.00 H478.90 V484.60" fill="none" stroke="#111" stroke-width="1.1"/>
<text class="pv" x="337.50" y="457.80" font-size="9.2" font-weight="normal" text-anchor="middle" textLength="35.34" lengthAdjust="spacingAndGlyphs">p=0.102</text>
<text class="pv" x="430.45" y="479.10" font-size="9.2" font-weight="normal" text-anchor="middle" textLength="34.44" lengthAdjust="spacingAndGlyphs">p=0.001</text>
<text x="53.10" y="565.60" font-size="9.8" font-weight="normal" text-anchor="middle" textLength="34.38" lengthAdjust="spacingAndGlyphs">Gefitnib</text>
<text x="52.60" y="576.60" font-size="9.8" font-weight="normal" text-anchor="middle" textLength="14.18" lengthAdjust="spacingAndGlyphs">µM</text>
<text x="86.90" y="567.80" font-size="12" font-weight="bold" text-anchor="middle" >0</text>
<text x="103.85" y="567.80" font-size="12" font-weight="bold" text-anchor="middle" textLength="12.56" lengthAdjust="spacingAndGlyphs">10</text>
<text x="130.40" y="567.80" font-size="12" font-weight="bold" text-anchor="middle" >0</text>
<text x="147.20" y="567.80" font-size="12" font-weight="bold" text-anchor="middle" textLength="12.56" lengthAdjust="spacingAndGlyphs">10</text>
<text x="177.50" y="567.80" font-size="12" font-weight="bold" text-anchor="middle" >0</text>
<text x="194.30" y="567.80" font-size="12" font-weight="bold" text-anchor="middle" textLength="12.56" lengthAdjust="spacingAndGlyphs">10</text>
<text x="223.80" y="567.80" font-size="12" font-weight="bold" text-anchor="middle" >0</text>
<text x="241.10" y="567.80" font-size="12" font-weight="bold" text-anchor="middle" textLength="12.56" lengthAdjust="spacingAndGlyphs">10</text>
<text x="266.60" y="567.80" font-size="12" font-weight="bold" text-anchor="middle" >0</text>
<text x="284.20" y="567.80" font-size="12" font-weight="bold" text-anchor="middle" textLength="12.56" lengthAdjust="spacingAndGlyphs">10</text>
<text x="310.80" y="567.80" font-size="12" font-weight="bold" text-anchor="middle" >0</text>
<text x="327.40" y="567.80" font-size="12" font-weight="bold" text-anchor="middle" textLength="12.56" lengthAdjust="spacingAndGlyphs">10</text>
<text x="354.40" y="567.80" font-size="12" font-weight="bold" text-anchor="middle" >0</text>
<text x="370.60" y="567.80" font-size="12" font-weight="bold" text-anchor="middle" textLength="12.56" lengthAdjust="spacingAndGlyphs">10</text>
<text x="397.50" y="567.80" font-size="12" font-weight="bold" text-anchor="middle" >0</text>
<text x="414.20" y="567.80" font-size="12" font-weight="bold" text-anchor="middle" textLength="12.56" lengthAdjust="spacingAndGlyphs">10</text>
<text x="437.85" y="567.90" font-size="11.8" font-weight="bold" text-anchor="middle" textLength="6.64" lengthAdjust="spacingAndGlyphs">0</text>
<text x="451.45" y="567.90" font-size="11.8" font-weight="bold" text-anchor="middle" textLength="12.24" lengthAdjust="spacingAndGlyphs">10</text>
<text x="464.10" y="567.90" font-size="11.8" font-weight="bold" text-anchor="middle" textLength="6.74" lengthAdjust="spacingAndGlyphs">0</text>
<text x="477.80" y="567.90" font-size="11.8" font-weight="bold" text-anchor="middle" textLength="12.54" lengthAdjust="spacingAndGlyphs">10</text>
<text x="459.25" y="580.40" font-size="10.2" font-weight="normal" text-anchor="middle" textLength="48.32" lengthAdjust="spacingAndGlyphs">G G E8 E8</text>
<text x="96.45" y="592.70" font-size="10.9" font-weight="bold" text-anchor="middle" textLength="34.37" lengthAdjust="spacingAndGlyphs">H3255</text>
<text x="141.05" y="592.70" font-size="10.9" font-weight="bold" text-anchor="middle" textLength="27.97" lengthAdjust="spacingAndGlyphs">H322</text>
<text x="184.55" y="592.70" font-size="10.9" font-weight="bold" text-anchor="middle" textLength="30.77" lengthAdjust="spacingAndGlyphs">Calu3</text>
<text x="230.65" y="592.70" font-size="10.9" font-weight="bold" text-anchor="middle" textLength="28.17" lengthAdjust="spacingAndGlyphs">H358</text>
<text x="274.65" y="592.70" font-size="10.9" font-weight="bold" text-anchor="middle" textLength="27.57" lengthAdjust="spacingAndGlyphs">A549</text>
<text x="320.00" y="592.70" font-size="10.9" font-weight="bold" text-anchor="middle" textLength="27.87" lengthAdjust="spacingAndGlyphs">H520</text>
<text x="364.60" y="592.70" font-size="10.9" font-weight="bold" text-anchor="middle" textLength="27.67" lengthAdjust="spacingAndGlyphs">H460</text>
<text x="409.75" y="592.70" font-size="10.9" font-weight="bold" text-anchor="middle" textLength="26.97" lengthAdjust="spacingAndGlyphs">H157</text>
<text x="461.20" y="592.70" font-size="10.9" font-weight="bold" text-anchor="middle" textLength="40.47" lengthAdjust="spacingAndGlyphs">H157 tx</text>
<line x1="86.60" y1="601.20" x2="240.00" y2="601.20" stroke="#111" stroke-width="1.25"/>
<path d="M81.60 601.20 L89.60 599.10 L89.60 603.30 Z" fill="#111"/>
<path d="M245.00 601.20 L237.00 599.10 L237.00 603.30 Z" fill="#111"/>
<line x1="312.40" y1="601.20" x2="416.30" y2="601.20" stroke="#111" stroke-width="1.25"/>
<path d="M307.40 601.20 L315.40 599.10 L315.40 603.30 Z" fill="#111"/>
<path d="M421.30 601.20 L413.30 599.10 L413.30 603.30 Z" fill="#111"/>
<text x="138.65" y="617.70" font-size="10.4" font-weight="bold" text-anchor="middle" textLength="61.53" lengthAdjust="spacingAndGlyphs">Sensitive IC</text>
<text x="174.35" y="622.60" font-size="8.6" font-weight="normal" text-anchor="middle" textLength="9.99" lengthAdjust="spacingAndGlyphs">50</text>
<text x="186.65" y="617.70" font-size="10.4" font-weight="bold" text-anchor="middle" textLength="11.93" lengthAdjust="spacingAndGlyphs">&lt;1</text>
<text x="347.85" y="617.40" font-size="10.4" font-weight="bold" text-anchor="middle" textLength="62.93" lengthAdjust="spacingAndGlyphs">Resistant IC</text>
<text x="384.85" y="621.40" font-size="8.4" font-weight="normal" text-anchor="middle" textLength="9.77" lengthAdjust="spacingAndGlyphs">50</text>
<text x="400.60" y="617.40" font-size="10.4" font-weight="bold" text-anchor="middle" textLength="19.63" lengthAdjust="spacingAndGlyphs">&gt;10</text>
<text transform="translate(44.50,497.50) rotate(-90)" font-size="11.2" font-weight="normal" text-anchor="middle" textLength="107" lengthAdjust="spacingAndGlyphs">Apoptotic (PI)/Viable</text>
<text transform="translate(57.70,497.40) rotate(-90)" font-size="11.2" font-weight="normal" text-anchor="middle" textLength="113.2" lengthAdjust="spacingAndGlyphs">Normalized to Control</text>
</svg>
</body></html>
